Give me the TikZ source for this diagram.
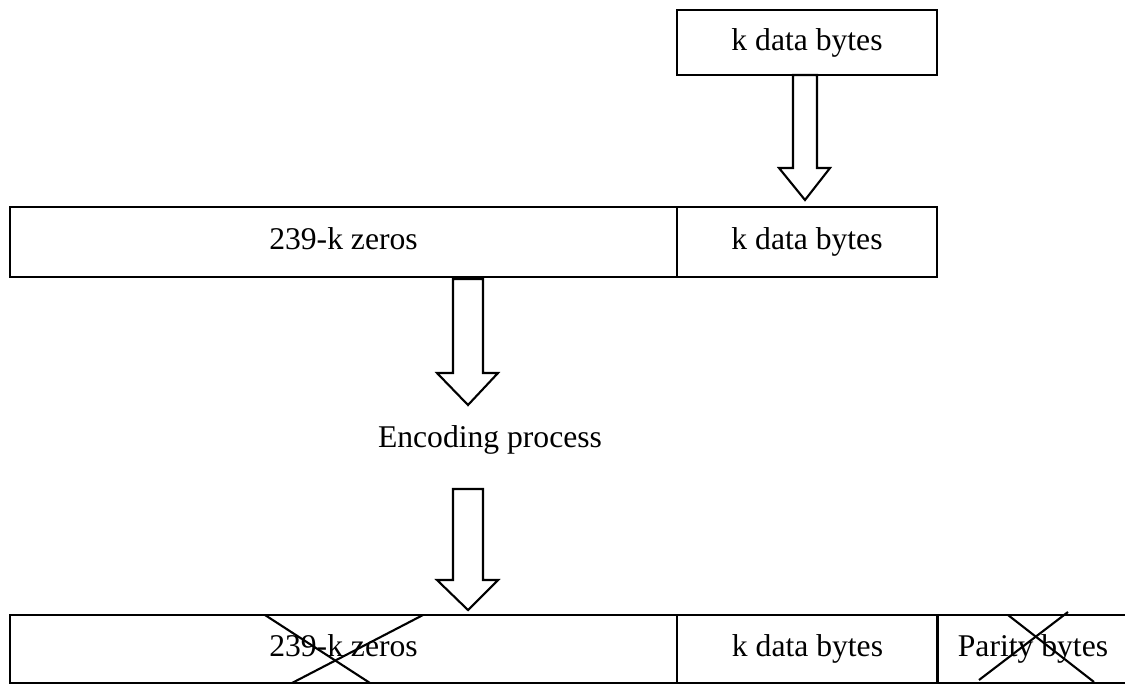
\documentclass[tikz,border=0pt]{standalone}
\usepackage{fontspec}
\setmainfont{Liberation Serif}
\begin{document}
\begin{tikzpicture}[x=0.02cm,y=-0.02cm,line width=1.2pt,line join=miter,
  lbl/.style={font=\fontsize{18}{21}\selectfont,inner sep=0pt},
  cell/.style={draw,rectangle,inner sep=0pt,text height=12.5pt,text depth=3.5pt,font=\fontsize{18}{21}\selectfont},
  blockarrow/.style={draw,fill=white},
  crossline/.style={draw,line width=1.2pt}]
\useasboundingbox (0,0) rectangle (1125,684);
% top box
\node[cell,minimum width=5.2cm,minimum height=1.3cm] (top) at (807,42.5) {k data bytes};
% middle row
\node[cell,minimum width=13.34cm,minimum height=1.4cm] (mz) at (343.5,242) {239-k zeros};
\node[cell,minimum width=5.2cm,minimum height=1.4cm] (md) at (807,242) {k data bytes};
% encoding label
\node[lbl,anchor=base] (enc) at (490,447) {Encoding process};
% bottom row
\node[cell,minimum width=13.34cm,minimum height=1.36cm] (bz) at (343.5,649) {239-k zeros};
\node[cell,minimum width=5.22cm,minimum height=1.36cm] (bd) at (807.5,649) {k data bytes};
\node[cell,minimum width=3.82cm,minimum height=1.36cm] (bp) at (1033,649) {Parity bytes};
% block arrows
\path[blockarrow] (793,75) -- (817,75) -- (817,168) -- (830,168) -- (805,200) -- (779,168) -- (793,168) -- cycle;
\path[blockarrow] (453,279) -- (483,279) -- (483,373) -- (498,373) -- (468,405) -- (437,373) -- (453,373) -- cycle;
\path[blockarrow] (453,489) -- (483,489) -- (483,580) -- (498,580) -- (468,610) -- (437,580) -- (453,580) -- cycle;
% crosses
\path[crossline] (265,615) -- (370,683);
\path[crossline] (423,615) -- (292,683);
\path[crossline] (979,680) -- (1068,612);
\path[crossline] (1008,615) -- (1094,682);
\end{tikzpicture}
\end{document}
